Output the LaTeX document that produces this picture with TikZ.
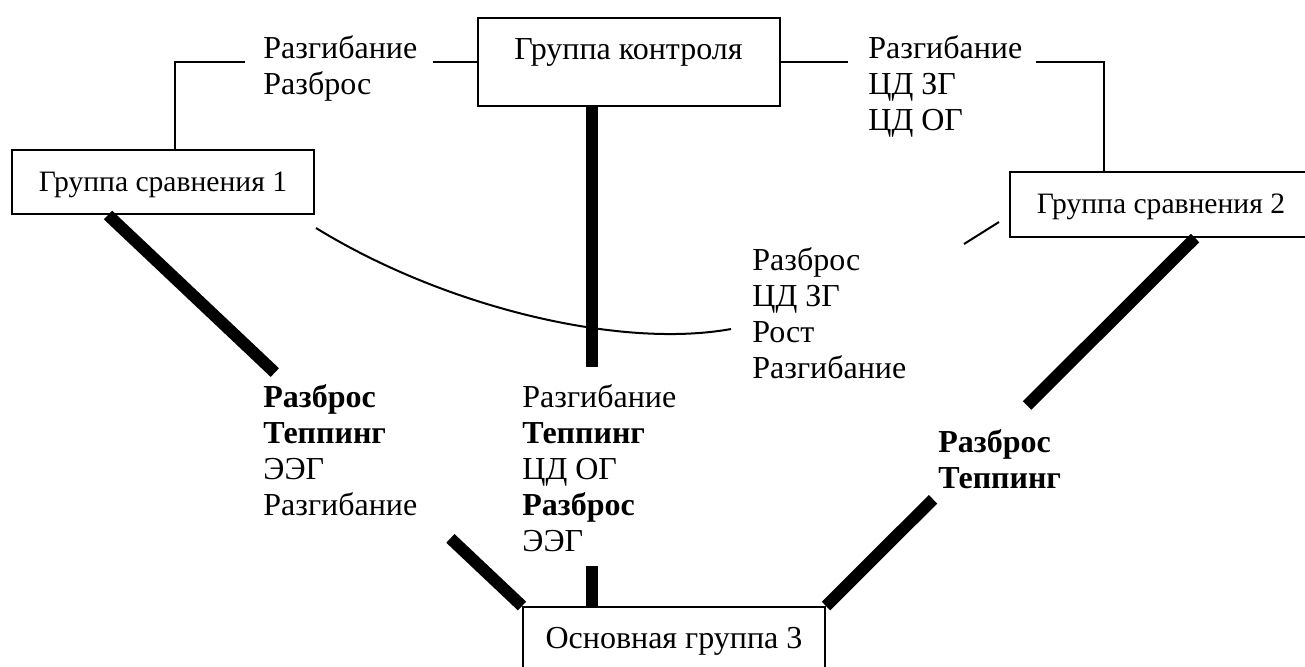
\documentclass[tikz,border=0pt]{standalone}
\usepackage{fontspec}
\setmainfont{Liberation Serif}

\tikzset{
  grp/.style={draw, line width=1pt, minimum width=151pt, inner xsep=0pt, inner ysep=0pt, text height=20.5pt, anchor=north},
  cmp/.style={grp, font=\fontsize{14.8}{18}\selectfont},
  lbl/.style={align=left, inner sep=0pt, anchor=north west},
  link/.style={line width=1pt},
  heavy/.style={line width=6pt}
}

\begin{document}
\begin{tikzpicture}[x=0.5pt,y=-0.5pt,font=\fontsize{16}{18}\selectfont]
\useasboundingbox (0,0) rectangle (1305,666);

% groups
\node[grp, text depth=23.5pt] (ctrl) at (628.5,17) {Группа контроля};
\node[cmp, text depth=11.5pt] (g1) at (163,149) {Группа сравнения 1};
\node[cmp, text depth=12pt] (g2) at (1161,171) {Группа сравнения 2};
\node[grp, text depth=23.5pt] (g3) at (674,606) {Основная группа 3};

% labels
\node[lbl] (l1) at (263,35) {Разгибание\\Разброс};
\node[lbl] (l2) at (868,35) {Разгибание\\ЦД ЗГ\\ЦД ОГ};
\node[lbl] (l3) at (752,247) {Разброс\\ЦД ЗГ\\Рост\\Разгибание};
\node[lbl] (l4) at (263,384) {\textbf{Разброс}\\\textbf{Теппинг}\\ЭЭГ\\Разгибание};
\node[lbl] (l5) at (522,384) {Разгибание\\\textbf{Теппинг}\\ЦД ОГ\\\textbf{Разброс}\\ЭЭГ};
\node[lbl] (l6) at (938,429) {\textbf{Разброс}\\\textbf{Теппинг}};

% thin links
\draw[link] (ctrl.west) -- ([xshift=7.5pt]l1.east |- ctrl.west);
\draw[link] ([xshift=-9pt]l1.west |- ctrl.west) -| ([xshift=6pt]g1.north);
\draw[link] (ctrl.east) -- ([xshift=-10pt]l2.west |- ctrl.east);
\draw[link] ([xshift=6.5pt]l2.east |- ctrl.east) -| ([xshift=-28.5pt]g2.north);
\draw[link] ([shift={(1,13)}]g1.south east) .. controls +(130,80) and +(-110,20) .. ([shift={(-21,16)}]l3.west);
\draw[link] ([shift={(-10,-16)}]g2.south west) -- ++(-35,22);

% heavy links
\draw[heavy, shorten >=119.5pt] ([xshift=-18.25pt]ctrl.south) -- ([xshift=-41pt]g3.north);
\draw[heavy, shorten <=229.5pt] ([xshift=-18.25pt]ctrl.south) -- ([xshift=-41pt]g3.north);
\draw[heavy, shorten >=170pt] ([xshift=-27.5pt]g1.south) -- (g3.north west);
\draw[heavy, shorten <=235.5pt] ([xshift=-27.5pt]g1.south) -- (g3.north west);
\draw[heavy, shorten >=142pt] ([xshift=17pt]g2.south) -- (g3.north east);
\draw[heavy, shorten <=185pt] ([xshift=17pt]g2.south) -- (g3.north east);
\end{tikzpicture}
\end{document}
